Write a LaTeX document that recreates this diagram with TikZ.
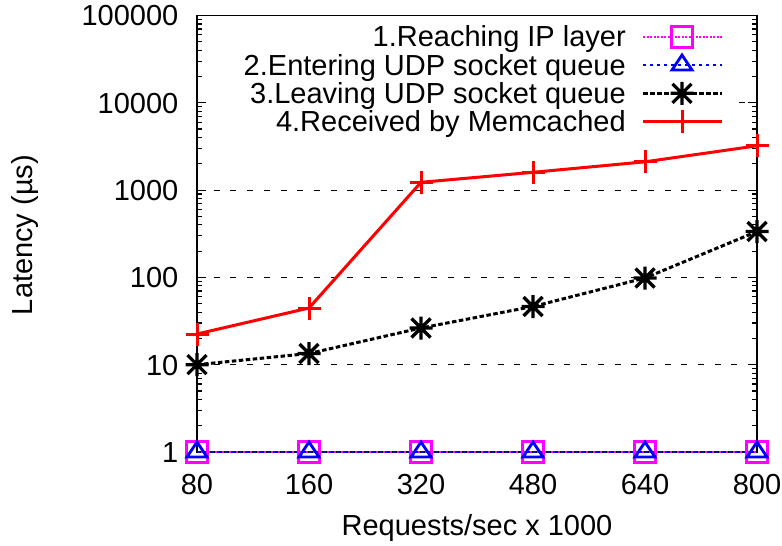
\documentclass[tikz,border=0pt]{standalone}
\usepackage{fontspec}
\setmainfont{Liberation Sans}
\definecolor{gpmag}{RGB}{255,0,255}
\definecolor{gpblue}{RGB}{0,0,255}
\definecolor{gpred}{RGB}{255,0,0}
\begin{document}
\begin{tikzpicture}[x=1pt,y=-1pt,
  every node/.style={font=\fontsize{29}{35}\selectfont, inner sep=0pt},
  border/.style={line width=1.5pt, line cap=rect},
  tickline/.style={line width=1.2pt},
  gridline/.style={line width=0.8pt, dash pattern=on 6pt off 10.7pt},
  ipline/.style={gpmag, line width=2pt, dash pattern=on 2pt off 1.5pt},
  udpin/.style={gpblue, line width=2.5pt, dash pattern=on 2.5pt off 4.5pt},
  udpout/.style={black, line width=3pt, dash pattern=on 4.5pt off 2.5pt},
  memc/.style={gpred, line width=3pt},
  mksq/.pic={\draw[gpmag, line width=2.8pt, solid] (-10.5,-10.5) rectangle (10.5,10.5);},
  mktri/.pic={\draw[gpblue, line width=2.8pt, line join=miter, solid] (0,-10) -- (10,5) -- (-10,5) -- cycle;},
  mkast/.pic={\draw[black, line width=3.2pt, solid] (-11.5,0)--(11.5,0) (0,-11.5)--(0,11.5) (-9.5,-9.5)--(9.5,9.5) (-9.5,9.5)--(9.5,-9.5);},
  mkplus/.pic={\draw[gpred, line width=3pt, solid] (-11.5,0)--(11.5,0) (0,-11.5)--(0,11.5);}
]
\useasboundingbox (0,0) rectangle (782,546);

% axis geometry
\def\xl{197}\def\xr{757}\def\yb{452}\def\yt{15.5}\def\dec{87.3}

% grid
\foreach \d in {1,2,3}{
  \pgfmathsetmacro\gy{\yb-\dec*\d}
  \draw[gridline] (\xl,\gy) -- (\xr,\gy);
}
\draw[gridline] (739,102.8) -- (\xr,102.8);

% border
\draw[border] (\xl,\yt) rectangle (\xr,\yb);

% major ticks
\foreach \d in {0,...,5}{
  \pgfmathsetmacro\gy{\yb-\dec*\d}
  \draw[tickline] (\xl,\gy) -- ++(9,0);
  \draw[tickline] (\xr,\gy) -- ++(-9,0);
}
% minor ticks
\foreach \d in {0,...,4}{
  \foreach \k in {2,...,9}{
    \pgfmathsetmacro\gy{\yb-\dec*(\d+log10(\k))}
    \draw[tickline] (\xl,\gy) -- ++(5,0);
    \draw[tickline] (\xr,\gy) -- ++(-5,0);
  }
}

% y tick labels
\foreach \lab [count=\i from 0] in {1,10,100,1000,10000,100000}{
  \pgfmathsetmacro\gy{\yb-\dec*\i+10.3}
  \node[anchor=base east] (yl\i) at (178.5,\gy) {\lab};
}
% x tick labels
\foreach \lab/\xx [count=\i] in {80/197,160/309,320/421,480/533,640/645,800/757}{
  \node[anchor=base] (xl\i) at (\xx,494.5) {\lab};
}
% axis titles
\node[anchor=base] (xtitle) at (477,535) {Requests/sec x 1000};
\node[rotate=90] (ytitle) at (25,235) {Latency (µs)};

% data points
\foreach \xx [count=\i] in {197,309,421,533,645,757}{
  \coordinate (ip\i) at (\xx,\yb);
  \coordinate (ui\i) at (\xx,\yb);
}
\coordinate (uo1) at (197,364.7);
\coordinate (uo2) at (309,353.5);
\coordinate (uo3) at (421,328);
\coordinate (uo4) at (533,306.5);
\coordinate (uo5) at (645,278);
\coordinate (uo6) at (757,231.5);
\coordinate (mc1) at (197,334);
\coordinate (mc2) at (309,308);
\coordinate (mc3) at (421,182.3);
\coordinate (mc4) at (533,172.3);
\coordinate (mc5) at (645,161.8);
\coordinate (mc6) at (757,145.8);

% curves
\draw[ipline] (ip1) -- (ip2) -- (ip3) -- (ip4) -- (ip5) -- (ip6);
\draw[udpin] (ui1) -- (ui2) -- (ui3) -- (ui4) -- (ui5) -- (ui6);
\draw[udpout] (uo1) -- (uo2) -- (uo3) -- (uo4) -- (uo5) -- (uo6);
\draw[memc] (mc1) -- (mc2) -- (mc3) -- (mc4) -- (mc5) -- (mc6);
\foreach \i in {1,...,6}{
  \pic at (ip\i) {mksq};
  \pic at (ui\i) {mktri};
  \pic at (uo\i) {mkast};
  \pic at (mc\i) {mkplus};
}

% legend
\node[anchor=base east] (k1) at (626,46.7) {1.Reaching IP layer};
\node[anchor=base east] (k2) at (626,75) {2.Entering UDP socket queue};
\node[anchor=base east] (k3) at (626,103.3) {3.Leaving UDP socket queue};
\node[anchor=base east] (k4) at (626,131.6) {4.Received by Memcached};
\coordinate (k1a) at (643,36.7); \coordinate (k1b) at (722,36.7); \coordinate (k1m) at (682,36.7);
\coordinate (k2a) at (643,65);   \coordinate (k2b) at (722,65);   \coordinate (k2m) at (682,65);
\coordinate (k3a) at (643,93.3); \coordinate (k3b) at (722,93.3); \coordinate (k3m) at (682,93.3);
\coordinate (k4a) at (643,121.6);\coordinate (k4b) at (722,121.6);\coordinate (k4m) at (682,121.6);
\draw[ipline] (k1a) -- (k1b); \pic at (k1m) {mksq};
\draw[udpin] (k2a) -- (k2b);  \pic at (k2m) {mktri};
\draw[udpout] (k3a) -- (k3b); \pic at (k3m) {mkast};
\draw[memc] (k4a) -- (k4b);   \pic at (k4m) {mkplus};
\end{tikzpicture}
\end{document}
